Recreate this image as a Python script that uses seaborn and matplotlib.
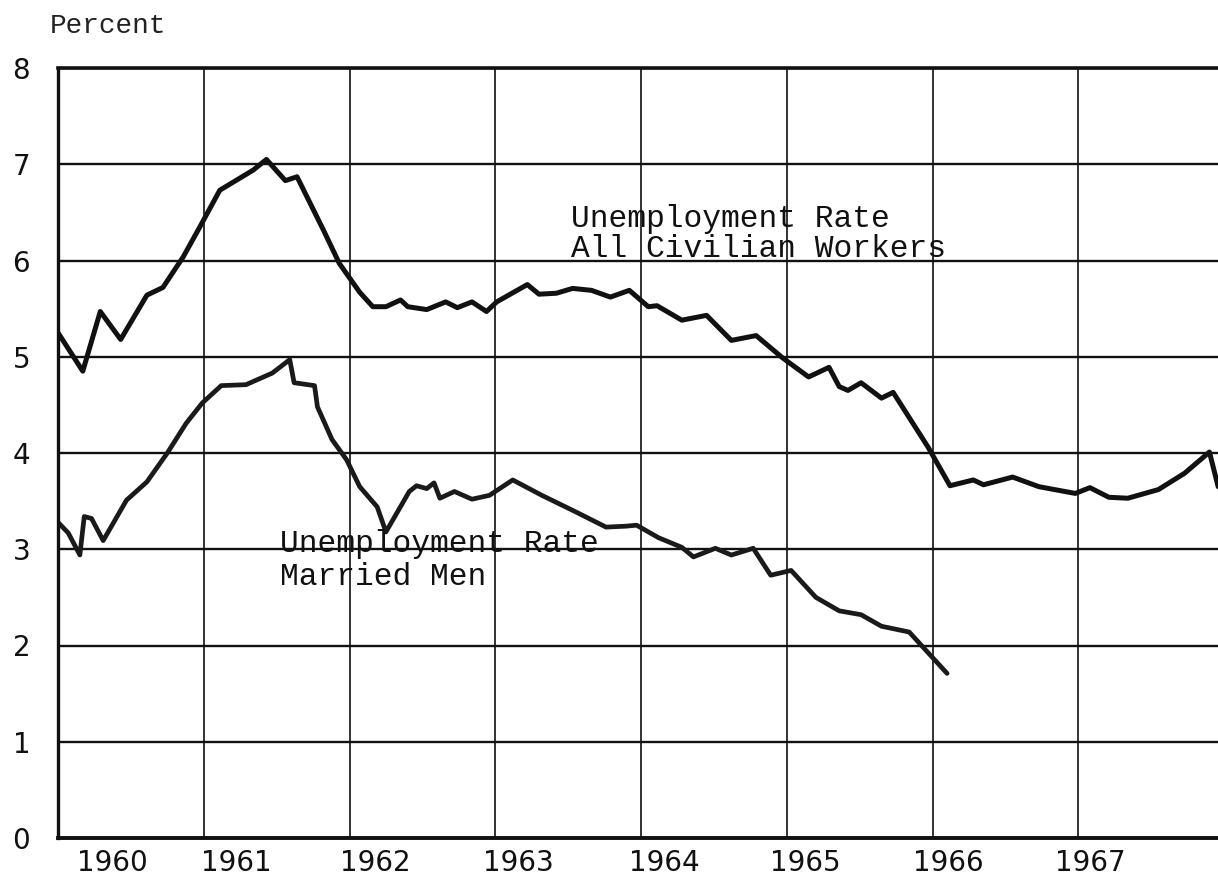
import numpy as np
import pandas as pd
import matplotlib
matplotlib.use('Agg')
import matplotlib.pyplot as plt
import seaborn as sns

# unemployment rate, all civilian workers
all_year = [1960.00, 1960.17, 1960.29, 1960.43, 1960.61, 1960.72, 1960.86, 1960.97,
            1961.11, 1961.34, 1961.43, 1961.56, 1961.64, 1961.82, 1961.93, 1962.07,
            1962.16, 1962.25, 1962.35, 1962.40, 1962.53, 1962.66, 1962.74, 1962.84,
            1962.94, 1963.01, 1963.22, 1963.30, 1963.42, 1963.53, 1963.66, 1963.79,
            1963.92, 1964.05, 1964.11, 1964.28, 1964.45, 1964.62, 1964.79, 1964.97,
            1965.15, 1965.29, 1965.36, 1965.42, 1965.51, 1965.65, 1965.73, 1965.97,
            1966.12, 1966.28, 1966.35, 1966.55, 1966.73, 1966.98, 1967.08, 1967.21,
            1967.34, 1967.55, 1967.73, 1967.90, 1967.96]
all_rate = [5.25, 4.85, 5.47, 5.18, 5.64, 5.72, 6.04, 6.34,
            6.73, 6.94, 7.05, 6.83, 6.87, 6.32, 5.97, 5.67,
            5.52, 5.52, 5.59, 5.52, 5.49, 5.57, 5.51, 5.57,
            5.47, 5.57, 5.75, 5.65, 5.66, 5.71, 5.69, 5.62,
            5.69, 5.52, 5.53, 5.38, 5.43, 5.17, 5.22, 4.99,
            4.79, 4.89, 4.69, 4.65, 4.73, 4.57, 4.63, 4.06,
            3.66, 3.72, 3.67, 3.75, 3.65, 3.58, 3.64, 3.54,
            3.53, 3.62, 3.79, 4.01, 3.65]

# unemployment rate, married men
men_year = [1960.00, 1960.07, 1960.15, 1960.18, 1960.23, 1960.31, 1960.47, 1960.61,
            1960.75, 1960.88, 1960.99, 1961.12, 1961.29, 1961.47, 1961.59, 1961.62,
            1961.76, 1961.78, 1961.88, 1961.98, 1962.07, 1962.19, 1962.25, 1962.41,
            1962.46, 1962.53, 1962.58, 1962.62, 1962.72, 1962.84, 1962.96, 1963.12,
            1963.32, 1963.55, 1963.76, 1963.90, 1963.97, 1964.12, 1964.28, 1964.36,
            1964.51, 1964.62, 1964.77, 1964.89, 1965.03, 1965.20, 1965.36, 1965.51,
            1965.65, 1965.84, 1966.10]
men_rate = [3.28, 3.17, 2.94, 3.34, 3.32, 3.09, 3.51, 3.70,
            4.00, 4.31, 4.52, 4.70, 4.71, 4.83, 4.97, 4.73,
            4.70, 4.48, 4.14, 3.93, 3.65, 3.44, 3.18, 3.60,
            3.66, 3.63, 3.69, 3.53, 3.60, 3.52, 3.56, 3.72,
            3.56, 3.39, 3.23, 3.24, 3.25, 3.12, 3.02, 2.92,
            3.01, 2.94, 3.01, 2.73, 2.78, 2.50, 2.36, 2.32,
            2.20, 2.14, 1.71]

years = [1960, 1961, 1962, 1963, 1964, 1965, 1966, 1967]
year_label_pos = [1960.37, 1961.22, 1962.18, 1963.16, 1964.16, 1965.13, 1966.11, 1967.08]
y_ticks = [0, 1, 2, 3, 4, 5, 6, 7, 8]

df_all = pd.DataFrame({'year': all_year, 'rate': all_rate})
df_men = pd.DataFrame({'year': men_year, 'rate': men_rate})

sns.set_style('white')
plt.rcParams['font.family'] = ['DejaVu Sans']

fig = plt.figure(figsize=(12.18, 8.81), dpi=100)
ax = fig.add_axes([58 / 1218, 43 / 881, (1224 - 58) / 1218, 770 / 881])

sns.lineplot(data=df_all, x='year', y='rate', sort=False, estimator=None,
             color='#111111', linewidth=3.6, ax=ax)
sns.lineplot(data=df_men, x='year', y='rate', sort=False, estimator=None,
             color='#1a1a1a', linewidth=3.4, ax=ax)

ax.set_xlim(1960, 1968)
ax.set_ylim(0, 8)

# grid lines at year boundaries and whole percents
ax.set_xticks(years + [1968])
ax.set_xticklabels([])
ax.set_xticks(year_label_pos, minor=True)
ax.set_xticklabels([str(y) for y in years], minor=True, fontsize=20, color='#111111')
ax.set_yticks(y_ticks)
ax.set_yticklabels([str(v) for v in y_ticks], fontsize=20, color='#111111')
ax.tick_params(axis='both', which='both', length=0)
ax.tick_params(axis='x', which='minor', pad=8)
ax.tick_params(axis='y', pad=20)

ax.grid(True, axis='y', color='#111111', linewidth=1.7)
ax.grid(True, axis='x', color='#222222', linewidth=1.3)
ax.set_axisbelow(True)

for side in ['left', 'bottom', 'top']:
    ax.spines[side].set_visible(True)
    ax.spines[side].set_color('#111111')
ax.spines['left'].set_linewidth(2.4)
ax.spines['bottom'].set_linewidth(2.8)
ax.spines['top'].set_linewidth(2.6)
ax.spines['right'].set_visible(False)

ax.set_xlabel('')
ax.set_ylabel('')

mono = 'Liberation Mono'
fig.text(50 / 1218, 1 - 33 / 881, 'Percent', family=mono, fontsize=20,
         color='#222222', ha='left', va='baseline')

ax.text(1963.52, 6.35, 'Unemployment Rate', family=mono, fontsize=22.5,
        color='#111111', ha='left', va='baseline')
ax.text(1963.52, 6.04, 'All Civilian Workers', family=mono, fontsize=22.5,
        color='#111111', ha='left', va='baseline')
ax.text(1961.52, 2.97, 'Unemployment Rate', family=mono, fontsize=22.5,
        color='#111111', ha='left', va='baseline')
ax.text(1961.52, 2.63, 'Married Men', family=mono, fontsize=22.5,
        color='#111111', ha='left', va='baseline')

fig.savefig('out.png', dpi=100)
